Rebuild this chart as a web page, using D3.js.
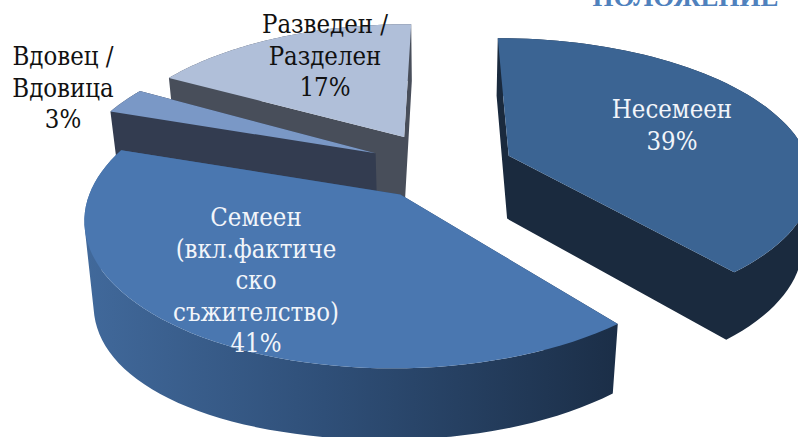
<!DOCTYPE html>
<html>
<head>
<meta charset="utf-8">
<script src="https://cdn.jsdelivr.net/npm/d3@7"></script>
<style>
html, body { margin: 0; padding: 0; background: #fff; overflow: hidden; }
text { font-family: "DejaVu Serif Condensed", "DejaVu Serif", "Liberation Serif", serif; }
</style>
</head>
<body>
<div id="chart"></div>
<script>
var categories = ["Несемеен", "Семеен (вкл.фактическо съжителство)", "Вдовец / Вдовица", "Разведен / Разделен"];
var values = [39, 41, 3, 17];
var labelLines = [
	["Несемеен", "39%"],
	["Семеен", "(вкл.фактиче", "ско", "съжителство)", "41%"],
	["Вдовец /", "Вдовица", "3%"],
	["Разведен /", "Разделен", "17%"]
];
var titleText = "ПОЛОЖЕНИЕ";

var topColors = ["#3b6493", "#4a77b0", "#7a98c6", "#b0bfd9"];
var wallColors = ["#1a2a3e", "#1c2f48", "#333c50", "#484e5a"];
var labelColors = ["#f2f5fa", "#f2f5fa", "#111", "#111"];
var labelCenters = [[672, 118], [256, 226], [63, 65], [325, 33]];
var lineHeight = 31.5;

var width = 798, height = 437;
var cx = 442, cy = 167;
var radius = 302;
var explodes = [72, 71, 74, 78];
var nudges = [-1.5, -0.5, 0, -0.5];
var sags = [0, 0.00016, 0, 0];
var squash = 0.458, persp = 0.0005, depth = 65, depthPersp = 0.025;

var svg = d3.select("#chart").append("svg")
	.attr("width", width)
	.attr("height", height)
	.style("display", "block");

var defs = svg.append("defs");

// ground plane point -> screen, low = 1 for the underside of the slice
function project(x, y, low, sag) {
	var s = 1 / (1 - persp * y + low * depthPersp);
	var drop = low * (depth + (sag && x < 0 ? sag * x * x : 0));
	return [cx + x * s, cy + (squash * y + drop) * s];
}

var pie = d3.pie().sort(null).startAngle(1 * Math.PI / 180).endAngle(361 * Math.PI / 180);
var arcs = pie(values);
var line = d3.line();

function sliceGeometry(d, e, nudge) {
	var a0 = d.startAngle + nudge * Math.PI / 180;
	var a1 = d.endAngle + nudge * Math.PI / 180;
	var mid = (a0 + a1) / 2;
	var ox = e * Math.sin(mid), oy = -e * Math.cos(mid);
	var steps = d3.range(0, 65).map(function(i) {
		var a = a0 + (a1 - a0) * i / 64;
		return [ox + radius * Math.sin(a), oy - radius * Math.cos(a)];
	});
	return {apex: [ox, oy], rim: steps};
}

// same turning direction for every quad, or they cancel out where they overlap
function quad(a, b, c, d) {
	var pts = [a, b, c, d];
	if (d3.polygonArea(pts) < 0) pts.reverse();
	return line(pts) + "Z";
}

// far slices first so the near ones cover them
var order = [3, 2, 1, 0];

order.forEach(function(i) {
	var g = sliceGeometry(arcs[i], explodes[i], nudges[i]);
	var n = g.rim.length;
	var group = svg.append("g").attr("class", "slice");
	var at = function(p, low) { return project(p[0], p[1], low, sags[i]); };

	var wallFill = wallColors[i];
	if (i == 1) {
		var xs = d3.extent(g.rim, function(p) { return at(p, 0)[0]; });
		var grad = defs.append("linearGradient")
			.attr("id", "wallGrad")
			.attr("gradientUnits", "userSpaceOnUse")
			.attr("x1", xs[0]).attr("x2", xs[1])
			.attr("y1", 0).attr("y2", 0);
		grad.append("stop").attr("offset", "0%").attr("stop-color", "#41699b");
		grad.append("stop").attr("offset", "45%").attr("stop-color", "#2f4f78");
		grad.append("stop").attr("offset", "100%").attr("stop-color", "#1b2e47");
		wallFill = "url(#wallGrad)";
	}

	// radial walls and outer wall go in one path so no seams show
	var wallPath = [g.rim[0], g.rim[n - 1]].map(function(edge) {
		return quad(at(g.apex, 0), at(edge, 0), at(edge, 1), at(g.apex, 1));
	}).concat(d3.range(0, n - 1).map(function(k) {
		return quad(at(g.rim[k], 0), at(g.rim[k + 1], 0), at(g.rim[k + 1], 1), at(g.rim[k], 1));
	})).join("");
	group.append("path").attr("d", wallPath).attr("fill", wallFill);

	var top = [at(g.apex, 0)].concat(g.rim.map(function(p) { return at(p, 0); }));
	group.append("path").attr("d", line(top) + "Z").attr("fill", topColors[i]);
});

labelLines.forEach(function(lines, i) {
	var t = svg.append("text")
		.attr("text-anchor", "middle")
		.attr("font-size", 25.5)
		.attr("fill", labelColors[i]);
	lines.forEach(function(s, j) {
		t.append("tspan")
			.attr("x", labelCenters[i][0])
			.attr("y", labelCenters[i][1] + j * lineHeight)
			.text(s);
	});
});

svg.append("text")
	.attr("x", 685.5)
	.attr("y", 6)
	.attr("text-anchor", "middle")
	.attr("font-size", 27)
	.attr("font-weight", "bold")
	.attr("fill", "#4f81bd")
	.style("font-family", "'Liberation Serif', serif")
	.text(titleText);
</script>
</body>
</html>
